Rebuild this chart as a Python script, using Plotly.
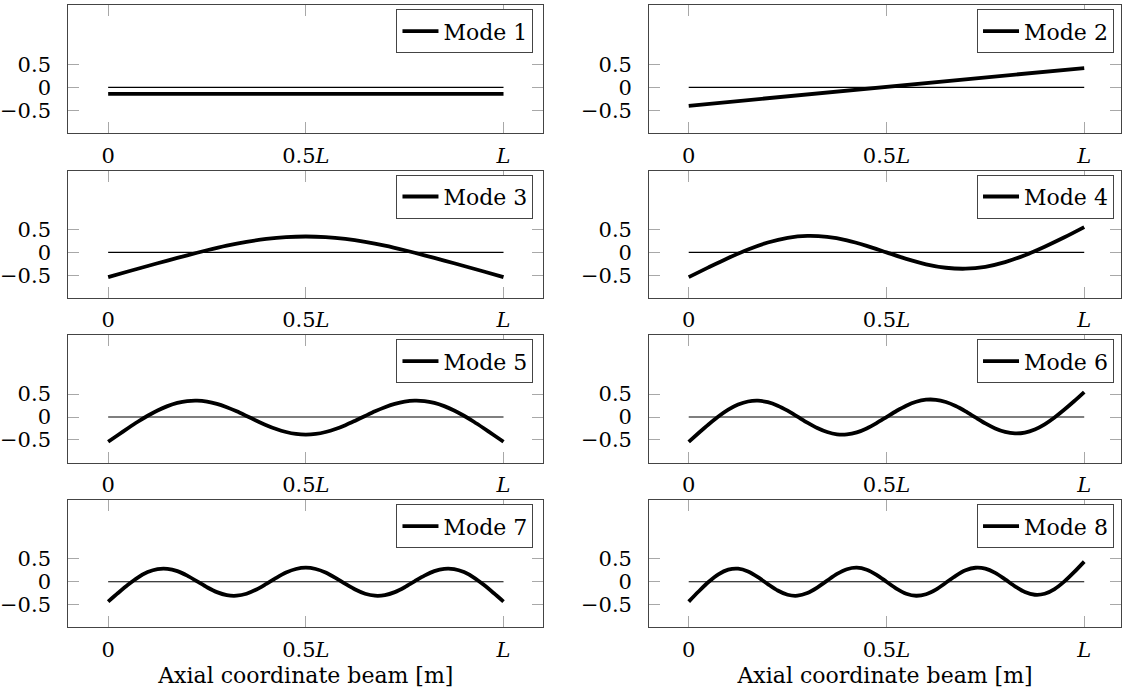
import plotly.graph_objects as go

# ---------------- data ----------------
x_end = [0.0, 1.0]
x_05 = [i * 0.05 for i in range(21)]
x_025 = [i * 0.025 for i in range(41)]

mode1 = [-0.14, -0.14]
mode2 = [-0.40, 0.42]
mode3 = [-0.54, -0.418, -0.298, -0.18, -0.065, 0.045, 0.145, 0.228, 0.292, 0.332, 0.345,
         0.332, 0.292, 0.228, 0.145, 0.045, -0.065, -0.18, -0.298, -0.418, -0.54]
mode4 = [-0.54, -0.328, -0.123, 0.063, 0.214, 0.315, 0.357, 0.336, 0.261, 0.142, 0.0,
         -0.142, -0.261, -0.336, -0.357, -0.315, -0.214, -0.063, 0.123, 0.328, 0.55]
mode5 = [-0.540, -0.392, -0.245, -0.103, 0.028, 0.144, 0.238, 0.307, 0.347, 0.356, 0.335,
         0.287, 0.214, 0.125, 0.024, -0.079, -0.177, -0.262, -0.327, -0.369, -0.383,
         -0.369, -0.327, -0.262, -0.177, -0.079, 0.024, 0.125, 0.214, 0.287, 0.335,
         0.356, 0.347, 0.307, 0.238, 0.144, 0.028, -0.103, -0.245, -0.392, -0.540]
mode6 = [-0.540, -0.349, -0.163, 0.010, 0.159, 0.271, 0.339, 0.356, 0.324, 0.248, 0.138,
         0.009, -0.122, -0.239, -0.327, -0.376, -0.378, -0.334, -0.248, -0.132, 0.000,
         0.132, 0.248, 0.334, 0.378, 0.376, 0.327, 0.239, 0.122, -0.009, -0.138,
         -0.248, -0.324, -0.356, -0.339, -0.271, -0.159, -0.010, 0.163, 0.349, 0.545]
mode7 = [-0.435, -0.248, -0.068, 0.091, 0.210, 0.277, 0.283, 0.231, 0.133, 0.008, -0.121,
         -0.228, -0.294, -0.306, -0.263, -0.171, -0.048, 0.083, 0.200, 0.279, 0.308,
         0.279, 0.200, 0.083, -0.048, -0.171, -0.263, -0.306, -0.294, -0.228, -0.121,
         0.008, 0.133, 0.231, 0.283, 0.277, 0.210, 0.091, -0.068, -0.248, -0.435]
mode8 = [-0.435, -0.214, -0.007, 0.162, 0.264, 0.285, 0.224, 0.100, -0.052, -0.193, -0.286,
         -0.306, -0.249, -0.129, 0.024, 0.171, 0.274, 0.307, 0.262, 0.150, 0.000,
         -0.150, -0.262, -0.307, -0.274, -0.171, -0.024, 0.129, 0.249, 0.306, 0.286,
         0.193, 0.052, -0.100, -0.224, -0.285, -0.264, -0.162, 0.007, 0.214, 0.440]

mode_names = ["Mode 1", "Mode 2", "Mode 3", "Mode 4",
              "Mode 5", "Mode 6", "Mode 7", "Mode 8"]
mode_x = [x_end, x_end, x_05, x_05, x_025, x_025, x_025, x_025]
mode_y = [mode1, mode2, mode3, mode4, mode5, mode6, mode7, mode8]

x_tickvals = [0, 0.5, 1]
x_ticktext = ["0", "0.5<i>L</i>", "<i>L</i>"]
y_tickvals = [-0.5, 0, 0.5]
y_ticktext = ["\u22120.5", "0", "0.5"]
x_title = "Axial coordinate beam [m]"

# ---------------- layout geometry ----------------
W, H = 1122, 693
FONT = "DejaVu Serif"
col_px = [(66.4, 542.9), (648.9, 1122.0)]
col_range = [[-0.101, 1.101], [-0.100, 1.093]]
row_px = [(5.4, 133.4), (170.7, 298.2), (335.4, 462.9), (500.4, 627.4)]
y_range = [-1.0, 1.78]

fig = go.Figure()
layout = dict(
    width=W, height=H,
    margin=dict(l=0, r=0, t=0, b=0),
    paper_bgcolor="white", plot_bgcolor="white",
    font=dict(family=FONT, size=21, color="black"),
    showlegend=True,
)

for k in range(8):
    r, c = k // 2, k % 2
    n = k + 1
    xa = "x" if n == 1 else f"x{n}"
    ya = "y" if n == 1 else f"y{n}"
    lg = "legend" if n == 1 else f"legend{n}"

    # thin zero reference line over the beam length
    fig.add_trace(go.Scatter(x=x_end, y=[0, 0], mode="lines",
                             line=dict(color="black", width=1.1),
                             xaxis=xa, yaxis=ya, showlegend=False,
                             hoverinfo="skip"))
    fig.add_trace(go.Scatter(x=mode_x[k], y=mode_y[k], mode="lines",
                             name=mode_names[k],
                             line=dict(color="black", width=3.8,
                                       shape="spline" if k >= 2 else "linear",
                                       smoothing=0.8),
                             xaxis=xa, yaxis=ya, legend=lg))

    x0, x1 = col_px[c]
    y0, y1 = row_px[r]
    axis_common = dict(showgrid=False, zeroline=False, showline=True,
                       linecolor="#444444", linewidth=1, mirror="allticks",
                       ticks="inside", ticklen=11, tickwidth=1,
                       tickcolor="#a8a8a8", fixedrange=True,
                       tickfont=dict(family=FONT, size=21, color="black"))
    xdict = dict(axis_common, domain=[x0 / W, x1 / W], range=col_range[c],
                 anchor=ya, tickvals=x_tickvals, ticktext=x_ticktext,
                 ticklabelstandoff=3)
    if r == 3:
        xdict["title"] = dict(text=x_title, font=dict(family=FONT, size=22),
                              standoff=7)
    ydict = dict(axis_common, domain=[1 - y1 / H, 1 - y0 / H], range=y_range,
                 anchor=xa, tickvals=y_tickvals, ticktext=y_ticktext,
                 ticklabelstandoff=12)
    layout["xaxis" if n == 1 else f"xaxis{n}"] = xdict
    layout["yaxis" if n == 1 else f"yaxis{n}"] = ydict

    leg_right = (x1 - 10) if c == 0 else (x1 - 7)
    layout[lg] = dict(x=leg_right / W, y=1 - (y0 + 4) / H,
                      xanchor="right", yanchor="top",
                      bgcolor="white", bordercolor="#444444", borderwidth=1,
                      font=dict(family=FONT, size=22, color="black"),
                      itemwidth=36)

fig.update_layout(**layout)
fig.write_html("out.html")
